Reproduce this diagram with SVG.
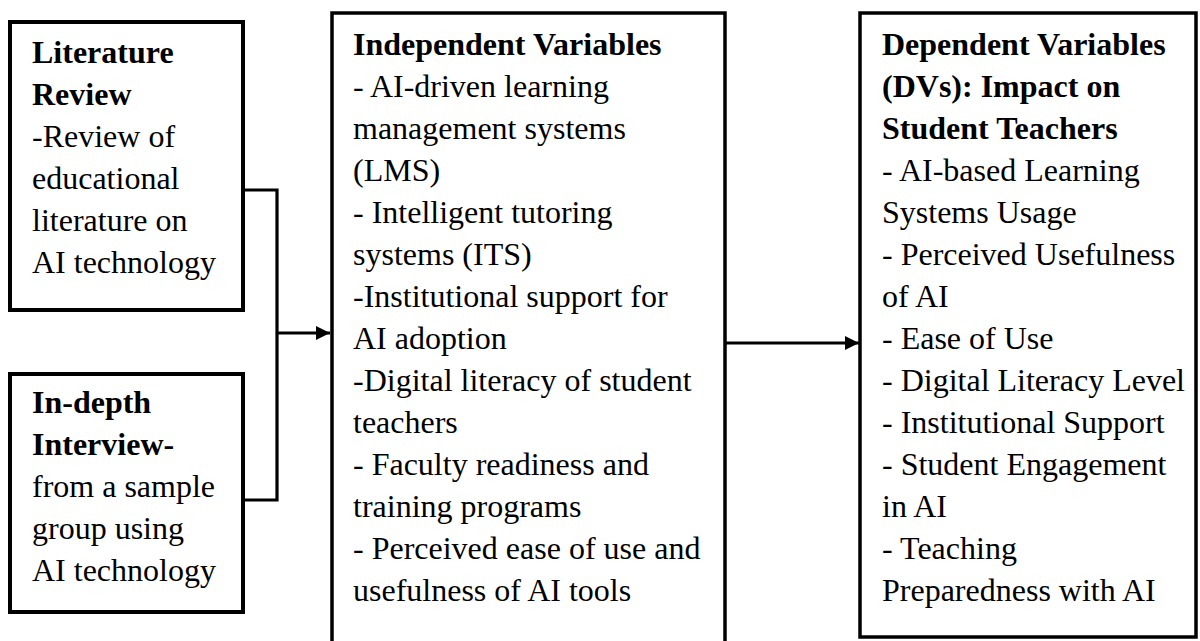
<svg xmlns="http://www.w3.org/2000/svg" width="1200" height="641" viewBox="0 0 1200 641">
  <style>
    .box { fill: #ffffff; stroke: #000000; stroke-width: 3.5; }
    .box-thick { stroke-width: 4; }
    .txt { font-family: "Liberation Serif", "Times New Roman", serif; font-size: 32px; fill: #000000; }
    .b { font-weight: bold; }
    .link { fill: none; stroke: #000000; stroke-width: 3.2; }
  </style>
  <defs>
    <marker id="arrow" markerUnits="userSpaceOnUse" markerWidth="16" markerHeight="16" refX="14" refY="7" orient="auto">
      <path d="M0,0 L14,7 L0,14 Z" fill="#000000"/>
    </marker>
  </defs>
  <rect width="1200" height="641" fill="#ffffff"/>

  <!-- Connectors -->
  <g id="connectors">
    <path class="link" d="M243,190 H277 V500 H243"/>
    <path class="link" d="M277,333 H330" marker-end="url(#arrow)"/>
    <path class="link" d="M725,343 H859" marker-end="url(#arrow)"/>
  </g>

  <!-- Literature review -->
  <g id="literature-review">
    <rect class="box box-thick" x="10" y="22" width="233" height="288"/>
    <text class="txt">
      <tspan class="b" x="32" y="63">Literature</tspan>
      <tspan class="b" x="32" y="105">Review</tspan>
      <tspan x="32" y="147">-Review of</tspan>
      <tspan x="32" y="189">educational</tspan>
      <tspan x="32" y="231">literature on</tspan>
      <tspan x="32" y="273">AI technology</tspan>
    </text>
  </g>

  <!-- In-depth interview -->
  <g id="in-depth-interview">
    <rect class="box box-thick" x="10" y="374" width="233" height="238"/>
    <text class="txt">
      <tspan class="b" x="32" y="413">In-depth</tspan>
      <tspan class="b" x="32" y="455">Interview-</tspan>
      <tspan x="32" y="497">from a sample</tspan>
      <tspan x="32" y="539">group using</tspan>
      <tspan x="32" y="581">AI technology</tspan>
    </text>
  </g>

  <!-- Independent variables -->
  <g id="independent-variables">
    <rect class="box" x="332" y="13" width="393" height="660"/>
    <text class="txt">
      <tspan class="b" x="353" y="55">Independent Variables</tspan>
      <tspan x="353" y="97">- AI-driven learning</tspan>
      <tspan x="353" y="139">management systems</tspan>
      <tspan x="353" y="181">(LMS)</tspan>
      <tspan x="353" y="223">- Intelligent tutoring</tspan>
      <tspan x="353" y="265">systems (ITS)</tspan>
      <tspan x="353" y="307">-Institutional support for</tspan>
      <tspan x="353" y="349">AI adoption</tspan>
      <tspan x="353" y="391">-Digital literacy of student</tspan>
      <tspan x="353" y="433">teachers</tspan>
      <tspan x="353" y="475">- Faculty readiness and</tspan>
      <tspan x="353" y="517">training programs</tspan>
      <tspan x="353" y="559">- Perceived ease of use and</tspan>
      <tspan x="353" y="601">usefulness of AI tools</tspan>
    </text>
  </g>

  <!-- Dependent variables -->
  <g id="dependent-variables">
    <rect class="box" x="860" y="13" width="336" height="624"/>
    <text class="txt">
      <tspan class="b" x="882" y="55">Dependent Variables</tspan>
      <tspan class="b" x="882" y="97">(DVs): Impact on</tspan>
      <tspan class="b" x="882" y="139">Student Teachers</tspan>
      <tspan x="882" y="181">- AI-based Learning</tspan>
      <tspan x="882" y="223">Systems Usage</tspan>
      <tspan x="882" y="265">- Perceived Usefulness</tspan>
      <tspan x="882" y="307">of AI</tspan>
      <tspan x="882" y="349">- Ease of Use</tspan>
      <tspan x="882" y="391">- Digital Literacy Level</tspan>
      <tspan x="882" y="433">- Institutional Support</tspan>
      <tspan x="882" y="475">- Student Engagement</tspan>
      <tspan x="882" y="517">in AI</tspan>
      <tspan x="882" y="559">- Teaching</tspan>
      <tspan x="882" y="601">Preparedness with AI</tspan>
    </text>
  </g>
</svg>
